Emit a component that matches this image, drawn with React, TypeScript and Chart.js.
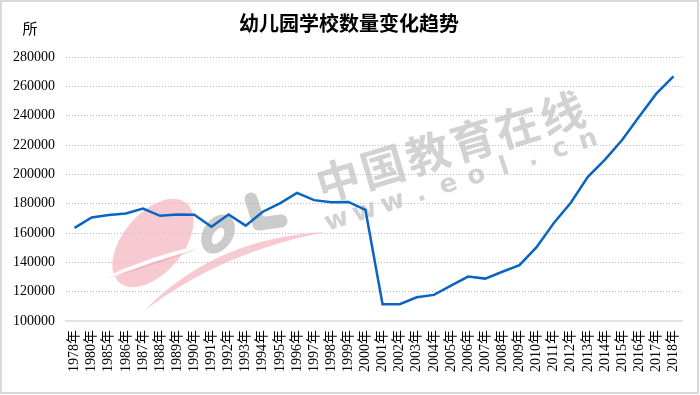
import React, { useEffect, useRef } from "react";
import { Chart, registerables } from "chart.js";

Chart.register(...registerables);

const years: string[] = [
  "1978年", "1980年", "1985年", "1986年", "1987年", "1988年", "1989年", "1990年",
  "1991年", "1992年", "1993年", "1994年", "1995年", "1996年", "1997年", "1998年",
  "1999年", "2000年", "2001年", "2002年", "2003年", "2004年", "2005年", "2006年",
  "2007年", "2008年", "2009年", "2010年", "2011年", "2012年", "2013年", "2014年",
  "2015年", "2016年", "2017年", "2018年",
];

const schoolCounts: number[] = [
  163500, 170600, 172200, 173300, 176700, 171700, 172600, 172500,
  164300, 172600, 165000, 174500, 180200, 187300, 182400, 181000,
  181200, 175700, 111500, 111500, 116200, 117800, 124100, 130300,
  128900, 133600, 138100, 150300, 166600, 180600, 198300, 210000,
  223400, 239400, 255000, 266800,
];

const titleText = "幼儿园学校数量变化趋势";
const unitText = "所";
const yMin = 100000;
const yMax = 280000;
const yStep = 20000;

const serif = '"Liberation Serif", "Noto Sans CJK SC", serif';

const decorPlugin = {
  id: "decor",
  beforeDatasetsDraw(chart: any) {
    const ctx = chart.ctx as CanvasRenderingContext2D;
    ctx.save();
    // pink leaf
    ctx.fillStyle = "rgba(242,168,180,0.62)";
    ctx.beginPath();
    ctx.ellipse(153, 243, 52, 30, -0.87, 0, Math.PI * 2);
    ctx.fill();
    // white cut
    ctx.strokeStyle = "#ffffff";
    ctx.lineWidth = 4;
    ctx.beginPath();
    ctx.moveTo(104, 280);
    ctx.quadraticCurveTo(150, 258, 205, 246);
    ctx.stroke();
    // thin pink swoosh
    ctx.fillStyle = "rgba(242,168,180,0.62)";
    ctx.beginPath();
    ctx.moveTo(106, 279);
    ctx.quadraticCurveTo(150, 262, 200, 248);
    ctx.quadraticCurveTo(150, 267, 106, 279);
    ctx.fill();
    // big pink swoosh
    ctx.beginPath();
    ctx.moveTo(145, 310);
    ctx.quadraticCurveTo(215, 238, 325, 232);
    ctx.quadraticCurveTo(222, 252, 145, 310);
    ctx.fill();
    // gray o
    ctx.fillStyle = "rgba(185,185,185,0.75)";
    ctx.beginPath();
    ctx.ellipse(218, 234, 15, 21, 0.55, 0, Math.PI * 2);
    ctx.fill();
    ctx.fillStyle = "#ffffff";
    ctx.beginPath();
    ctx.ellipse(218, 236, 5, 9, 0.55, 0, Math.PI * 2);
    ctx.fill();
    // gray l
    ctx.strokeStyle = "rgba(185,185,185,0.75)";
    ctx.lineWidth = 13;
    ctx.lineCap = "round";
    ctx.lineJoin = "round";
    ctx.beginPath();
    ctx.moveTo(251, 199);
    ctx.lineTo(259, 224);
    ctx.lineTo(281, 221);
    ctx.stroke();

    // watermark text
    ctx.fillStyle = "rgba(180,180,180,0.6)";
    ctx.textAlign = "center";
    ctx.textBaseline = "middle";
    const cn = "中国教育在线";
    ctx.save();
    ctx.translate(338, 180);
    ctx.rotate(-0.29);
    ctx.font = 'bold 44px "Noto Sans CJK SC"';
    for (let i = 0; i < cn.length; i++) ctx.fillText(cn[i], i * 46.8, 0);
    ctx.restore();
    const url = "www.eol.cn";
    ctx.save();
    ctx.translate(337, 221);
    ctx.rotate(-0.31);
    ctx.font = 'bold 26px "DejaVu Sans"';
    for (let i = 0; i < url.length; i++) ctx.fillText(url[i], i * 29.3, 0);
    ctx.restore();
    ctx.restore();
  },
  afterDraw(chart: any) {
    const ctx = chart.ctx as CanvasRenderingContext2D;
    ctx.save();
    ctx.fillStyle = "#000";
    ctx.textAlign = "center";
    ctx.textBaseline = "middle";
    ctx.font = 'bold 20px "Noto Sans CJK SC"';
    ctx.fillText(titleText, 349, 23);
    ctx.font = '15px "Noto Sans CJK SC"';
    ctx.fillText(unitText, 30, 28);
    ctx.strokeStyle = "#d9d9d9";
    ctx.lineWidth = 2;
    ctx.strokeRect(1, 1, 697, 392);
    ctx.restore();
  },
};

export default function App() {
  const ref = useRef<HTMLCanvasElement | null>(null);
  useEffect(() => {
    document.body.style.margin = "0";
    const canvas = ref.current!;
    const chart = new Chart(canvas, {
      type: "line",
      data: {
        labels: years,
        datasets: [
          {
            data: schoolCounts,
            borderColor: "#0a64c0",
            borderWidth: 2.5,
            pointRadius: 0,
            tension: 0,
            fill: false,
          },
        ],
      },
      options: {
        responsive: false,
        animation: false,
        devicePixelRatio: 1,
        layout: { padding: { top: 57, right: 18, left: 8, bottom: 0 } },
        plugins: { legend: { display: false }, title: { display: false }, tooltip: { enabled: false } },
        scales: {
          x: {
            type: "category",
            offset: true,
            grid: { display: false, drawTicks: false },
            border: { display: true, color: "#e3e3e3", width: 2 },
            ticks: {
              autoSkip: false,
              minRotation: 90,
              maxRotation: 90,
              padding: 9,
              color: "#000",
              font: { family: serif, size: 14 },
            },
            afterFit: (s: any) => { s.height = 74; },
          },
          y: {
            min: yMin,
            max: yMax,
            grid: { color: "#bdbdbd", lineWidth: 1, drawTicks: false },
            border: { display: false, dash: [1, 2] },
            ticks: {
              stepSize: yStep,
              padding: 11,
              color: "#000",
              font: { family: serif, size: 14 },
              callback: (v: any) => String(v),
            },
            afterFit: (s: any) => { s.width = 58; },
          },
        },
      },
      plugins: [decorPlugin],
    });
    return () => chart.destroy();
  }, []);
  return (
    <div style={{ width: 700, height: 395, background: "#fff" }}>
      <canvas ref={ref} width={700} height={395} style={{ display: "block" }} />
    </div>
  );
}
